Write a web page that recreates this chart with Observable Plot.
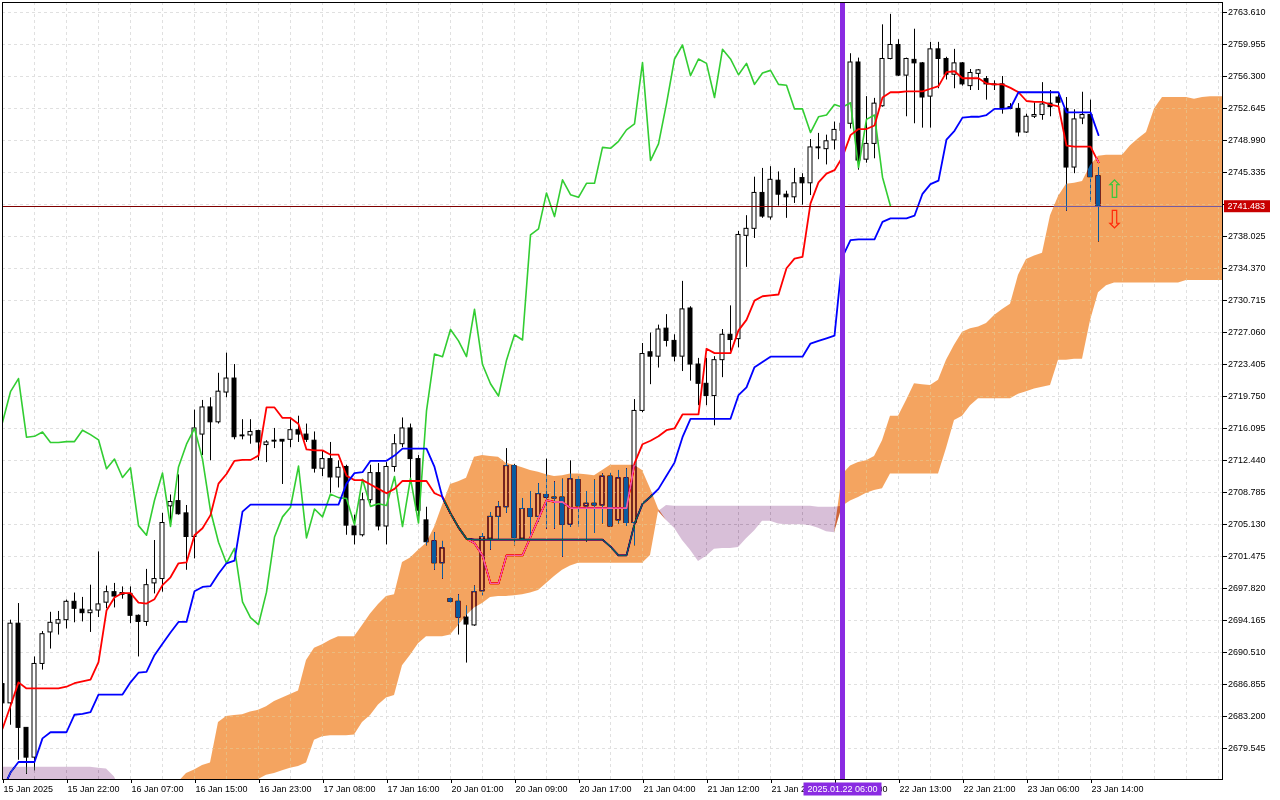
<!DOCTYPE html>
<html><head><meta charset="utf-8">
<script src="https://cdn.jsdelivr.net/npm/d3@7"></script>
<script src="https://cdn.jsdelivr.net/npm/@observablehq/plot@0.6"></script>
<style>
html,body{margin:0;padding:0;background:#fff;}
#chart{width:1280px;height:800px;overflow:hidden;}
</style></head><body><div id="chart"></div>
<script>
// XAUUSD H1, bars from 15 Jan 14:00 (index 0) to 23 Jan (index 137)
const opens=[2686.9,2684.7,2693.8,2681.9,2678.5,2689.2,2692.8,2693.8,2694.2,2696.3,
2695.4,2695.0,2695.3,2696.2,2697.4,2697.1,2697.2,2694.7,2694.0,2698.4,
2698.9,2707.2,2707.8,2706.4,2703.7,2715.4,2718.5,2716.8,2720.2,2721.8,
2715.3,2715.3,2715.8,2714.2,2714.7,2714.8,2714.8,2715.9,2715.4,2714.7,
2711.5,2712.6,2710.5,2711.7,2704.9,2703.9,2707.9,2711.0,2704.9,2711.7,
2714.3,2716.1,2712.6,2705.6,2703.2,2700.7,2696.6,2696.3,2694.5,2693.6,
2697.5,2703.5,2706.0,2707.1,2711.8,2703.5,2706.9,2706.0,2708.5,2708.2,
2708.2,2705.1,2710.2,2707.2,2707.5,2707.3,2710.6,2705.6,2710.4,2705.3,
2718.1,2724.8,2724.3,2727.5,2726.1,2724.3,2729.8,2723.4,2721.2,2719.8,
2723.9,2726.8,2726.3,2738.1,2738.9,2743.0,2740.2,2744.4,2742.8,2742.5,
2744.7,2744.1,2748.2,2748.0,2749.0,2750.1,2750.9,2757.9,2746.8,2748.6,
2752.9,2758.3,2759.9,2756.4,2758.2,2757.8,2754.0,2759.4,2758.3,2756.5,
2757.8,2755.2,2756.6,2756.0,2755.4,2755.4,2752.8,2752.6,2749.9,2751.7,
2751.9,2753.2,2753.9,2752.6,2745.9,2751.5,2751.9,2744.9];
const highs=[2687.3,2694.2,2696.1,2681.9,2690.0,2692.9,2695.1,2695.2,2696.5,2697.3,
2696.8,2698.2,2702.0,2698.1,2698.4,2698.0,2698.0,2694.8,2700.0,2703.3,
2706.4,2708.5,2710.8,2707.3,2718.2,2719.3,2719.6,2722.4,2724.7,2723.4,
2717.1,2717.1,2715.9,2714.7,2716.1,2714.8,2717.1,2717.5,2716.6,2715.7,
2713.5,2714.5,2712.4,2711.9,2706.2,2708.7,2711.9,2712.1,2712.2,2715.4,
2717.3,2716.6,2713.0,2707.1,2704.2,2703.2,2696.8,2697.1,2695.8,2698.1,
2704.1,2706.5,2707.7,2713.8,2712.0,2708.1,2708.9,2709.8,2712.6,2710.0,
2710.3,2712.4,2710.6,2708.9,2710.2,2710.9,2711.0,2711.3,2711.5,2719.4,
2725.8,2727.0,2727.9,2729.1,2726.8,2732.9,2730.0,2724.1,2724.1,2724.3,
2727.4,2730.1,2738.6,2740.4,2744.8,2745.8,2746.0,2745.4,2743.2,2745.8,
2745.2,2749.1,2749.8,2749.6,2751.1,2751.8,2758.9,2758.4,2754.0,2753.8,
2762.2,2763.4,2760.5,2758.4,2761.7,2757.9,2760.2,2760.2,2758.5,2759.4,
2757.9,2757.1,2757.1,2756.3,2755.8,2756.3,2753.2,2753.2,2752.0,2753.3,
2755.6,2754.7,2754.2,2753.9,2752.5,2754.5,2753.6,2745.9];
const lows=[2683.6,2682.2,2678.2,2676.6,2677.0,2688.5,2690.9,2692.5,2693.2,2693.9,
2694.0,2692.8,2694.5,2695.5,2695.6,2696.6,2693.8,2690.0,2693.5,2697.2,
2697.4,2704.8,2706.2,2699.9,2701.2,2713.0,2712.4,2716.6,2719.6,2714.8,
2714.8,2714.3,2712.4,2712.2,2713.8,2709.7,2713.9,2714.5,2714.5,2711.0,
2710.6,2708.7,2709.3,2703.9,2702.8,2703.7,2707.5,2704.4,2702.8,2711.1,
2713.9,2710.3,2705.6,2702.7,2699.9,2698.9,2696.1,2692.5,2689.3,2693.5,
2697.0,2702.2,2703.4,2706.4,2702.7,2703.3,2703.3,2705.4,2704.6,2704.6,
2701.4,2704.8,2704.8,2703.1,2704.1,2705.2,2704.8,2705.2,2704.9,2702.7,
2717.9,2721.1,2723.0,2725.4,2723.7,2722.6,2721.5,2718.7,2718.7,2716.4,
2721.9,2724.9,2725.3,2734.5,2737.8,2740.1,2739.9,2741.5,2740.1,2741.8,
2741.6,2742.7,2746.8,2746.2,2747.9,2749.0,2750.3,2745.6,2746.4,2746.9,
2752.8,2758.2,2756.3,2751.7,2750.9,2750.4,2750.4,2754.9,2755.9,2754.9,
2755.2,2754.7,2754.7,2753.6,2754.7,2752.0,2752.5,2749.4,2749.8,2751.5,
2751.3,2751.7,2752.9,2740.9,2745.2,2750.8,2741.9,2737.4];
const closes=[2684.7,2693.8,2681.9,2678.5,2689.2,2692.6,2693.9,2694.2,2696.3,2695.5,
2695.0,2695.3,2696.0,2697.4,2696.9,2697.3,2694.7,2694.0,2698.2,2698.9,
2705.3,2707.7,2706.3,2703.7,2716.1,2718.5,2716.8,2720.3,2721.8,2715.1,
2715.2,2715.7,2714.5,2714.5,2714.6,2714.6,2715.9,2715.4,2714.8,2711.5,
2712.6,2710.5,2711.6,2705.0,2703.9,2707.9,2711.0,2704.9,2711.7,2714.3,
2716.1,2712.6,2706.7,2703.1,2700.7,2702.4,2696.3,2694.5,2693.7,2697.4,
2703.7,2706.0,2707.1,2711.8,2703.6,2706.9,2706.0,2708.6,2708.2,2708.1,
2705.1,2710.3,2707.2,2707.5,2707.3,2710.6,2704.9,2710.4,2705.3,2718.1,
2724.6,2724.3,2727.4,2726.1,2724.3,2729.7,2723.4,2721.2,2719.8,2723.9,
2726.8,2726.2,2738.2,2738.9,2743.0,2740.3,2744.5,2742.8,2742.5,2744.1,
2744.1,2748.2,2748.1,2748.9,2750.2,2750.9,2757.9,2746.7,2748.6,2753.2,
2758.3,2759.9,2756.4,2758.3,2757.8,2753.9,2759.4,2758.3,2756.5,2757.8,
2755.4,2756.7,2757.0,2755.4,2755.3,2752.6,2752.6,2749.9,2751.7,2751.9,
2753.1,2752.8,2753.3,2745.9,2751.4,2751.9,2744.8,2741.483];
// Ichimoku lines
const tenkan=[2681.8,2684.4,2687.1,2686.4,2686.4,2686.4,2686.4,2686.4,2686.6,2687.0,
2687.2,2687.4,2689.4,2695.3,2696.8,2697.3,2697.3,2696.2,2696.1,2696.6,
2698.2,2699.1,2700.7,2700.8,2703.9,2704.7,2706.2,2709.8,2710.9,2712.4,
2712.5,2712.5,2713.0,2718.5,2718.5,2717.3,2717.3,2716.6,2713.7,2713.6,
2713.6,2713.1,2713.1,2710.7,2710.2,2710.2,2709.7,2709.2,2708.7,2709.2,
2710.1,2710.1,2710.1,2710.1,2708.7,2708.3,2706.4,2704.8,2703.5,2703.0,
2701.6,2698.4,2698.4,2701.6,2701.6,2701.6,2703.7,2705.8,2707.9,2707.7,
2707.7,2707.0,2707.0,2707.0,2707.0,2707.0,2707.0,2707.0,2707.0,2712.1,
2714.3,2714.7,2715.2,2715.9,2716.1,2717.7,2717.7,2717.7,2725.2,2724.7,
2724.7,2724.7,2727.3,2728.5,2730.7,2731.2,2731.3,2731.4,2734.4,2735.5,
2735.7,2741.8,2744.2,2745.2,2745.6,2747.1,2749.6,2750.3,2750.3,2750.7,
2753.9,2754.5,2754.5,2754.6,2754.6,2754.6,2754.9,2755.2,2756.8,2756.9,
2756.1,2756.1,2756.1,2755.5,2755.4,2755.4,2755.0,2754.5,2753.5,2753.4,
2753.4,2753.1,2752.9,2748.4,2748.3,2748.3,2748.3,2746.5];
const kijun=[2674.8,2676.8,2678.0,2678.0,2678.0,2680.7,2681.4,2681.4,2681.4,2683.4,
2683.5,2683.7,2685.7,2685.7,2685.7,2685.7,2687.1,2688.2,2688.3,2690.2,
2691.5,2692.8,2694.0,2694.0,2697.5,2698.0,2698.1,2699.5,2700.7,2701.0,
2706.6,2707.4,2707.4,2707.4,2707.4,2707.4,2707.4,2707.4,2707.4,2707.4,
2707.4,2707.4,2707.4,2709.8,2711.0,2711.1,2712.4,2712.4,2712.4,2713.0,
2713.8,2713.8,2713.8,2713.8,2711.7,2708.2,2706.4,2704.8,2703.5,2703.4,
2703.4,2703.4,2703.4,2703.4,2703.4,2703.4,2703.4,2703.4,2703.4,2703.4,
2703.4,2703.4,2703.4,2703.4,2703.4,2703.4,2702.6,2701.6,2701.6,2705.2,
2707.5,2708.3,2709.2,2710.7,2712.2,2715.1,2717.2,2717.2,2717.2,2717.2,
2717.2,2717.2,2719.9,2720.8,2723.1,2723.7,2724.3,2724.3,2724.3,2724.3,
2724.3,2725.8,2726.1,2726.4,2726.7,2735.7,2737.6,2737.7,2737.7,2737.7,
2739.7,2740.1,2740.1,2740.1,2740.4,2742.9,2744.0,2744.4,2749.1,2750.1,
2751.6,2751.7,2751.7,2751.9,2752.6,2752.6,2752.7,2754.5,2754.5,2754.5,
2754.5,2754.5,2754.5,2752.2,2752.2,2752.2,2752.2,2749.6];
// Senkou spans (already shifted 26 bars forward), indices 0..153
const spanA=[2673.6,2673.6,2673.6,2673.6,2673.6,2673.6,2673.6,2673.6,2673.6,2673.6,
2673.6,2673.6,2673.6,2673.6,2673.6,2673.6,2673.6,2673.6,2673.6,2673.6,
2673.6,2673.6,2675.7,2676.7,2677.1,2677.6,2677.9,2682.5,2683.2,2683.3,
2683.4,2683.7,2683.9,2684.3,2684.9,2685.3,2685.7,2686.1,2689.6,2691.0,
2691.4,2691.9,2692.3,2692.3,2692.3,2693.6,2694.9,2696.0,2696.9,2697.1,
2700.8,2701.3,2702.2,2703.0,2704.8,2707.3,2709.7,2710.0,2710.4,2712.8,
2713.0,2712.9,2712.8,2712.1,2711.9,2711.6,2711.3,2711.1,2710.8,2710.6,
2710.7,2710.9,2710.9,2710.8,2710.7,2711.3,2711.9,2711.9,2711.9,2711.9,
2711.3,2709.2,2706.9,2705.6,2704.7,2703.3,2702.2,2700.9,2701.5,2702.3,
2702.4,2702.4,2702.5,2703.5,2704.4,2705.5,2705.5,2705.2,2705.1,2705.1,
2705.1,2705.0,2704.7,2704.3,2704.2,2710.8,2711.8,2712.2,2712.4,2712.9,
2714.7,2717.5,2717.5,2719.3,2721.2,2721.1,2721.0,2721.6,2723.9,2725.6,
2727.1,2727.5,2727.7,2728.1,2729.0,2729.7,2730.3,2733.6,2735.4,2735.8,
2736.1,2740.4,2742.6,2744.0,2744.1,2744.3,2746.1,2747.2,2747.3,2747.3,
2747.3,2748.4,2749.2,2749.9,2752.6,2753.9,2753.9,2753.9,2753.9,2753.7,
2753.9,2754.0,2754.0,2754.0];
const spanB=[2677.4,2677.4,2677.4,2677.4,2677.4,2677.4,2677.4,2677.4,2677.4,2677.4,
2677.4,2677.4,2677.3,2677.2,2676.3,2674.2,2674.2,2674.2,2674.2,2674.2,
2674.2,2674.2,2673.6,2673.6,2673.6,2673.6,2674.2,2674.2,2674.2,2674.7,
2675.2,2675.7,2676.0,2676.5,2676.7,2677.0,2677.3,2677.5,2677.9,2680.5,
2680.9,2681.0,2681.0,2681.0,2681.1,2682.5,2683.3,2684.5,2685.3,2685.6,
2689.0,2690.2,2691.5,2692.3,2692.3,2692.3,2692.5,2693.6,2694.7,2695.6,
2696.1,2696.8,2696.9,2696.9,2697.0,2697.1,2697.3,2697.6,2698.4,2699.2,
2699.9,2700.4,2700.7,2700.7,2700.7,2700.7,2700.7,2700.7,2700.7,2700.7,
2700.7,2701.6,2706.6,2707.3,2707.2,2707.2,2707.2,2707.2,2707.2,2707.2,
2707.2,2707.2,2707.2,2707.2,2707.2,2707.2,2707.2,2707.2,2707.2,2707.2,
2707.2,2707.2,2707.1,2707.1,2707.1,2707.2,2707.8,2708.2,2708.7,2709.0,
2709.2,2710.9,2710.9,2710.9,2710.9,2710.9,2710.9,2710.9,2713.8,2717.0,
2717.5,2718.7,2719.5,2719.5,2719.5,2719.5,2719.5,2720.0,2720.3,2720.6,
2720.8,2721.0,2723.9,2723.9,2724.0,2724.0,2728.4,2731.6,2732.4,2732.7,
2732.7,2732.7,2732.7,2732.7,2732.7,2732.7,2732.7,2732.7,2733.0,2733.0,
2733.0,2733.0,2733.0,2733.0];
const yTicks=[2763.610,2759.955,2756.300,2752.645,2748.990,2745.335,2741.680,2738.025,
2734.370,2730.715,2727.060,2723.405,2719.750,2716.095,2712.440,2708.785,2705.130,
2701.475,2697.820,2694.165,2690.510,2686.855,2683.200,2679.545];
const xTickBars=[0,8,16,24,32,40,48,56,64,72,80,88,96,104,112,120,128,136];
const xTickLabels=["15 Jan 2025","15 Jan 22:00","16 Jan 07:00","16 Jan 15:00","16 Jan 23:00",
"17 Jan 08:00","17 Jan 16:00","20 Jan 01:00","20 Jan 09:00","20 Jan 17:00","21 Jan 04:00",
"21 Jan 12:00","21 Jan 20:00","22 Jan 05:00","22 Jan 13:00","22 Jan 21:00","23 Jan 06:00","23 Jan 14:00"];
const lastPrice=2741.483;
const vlineBar=105, vlineLabel="2025.01.22 06:00";
const signals=[{bar:139,price:2743.35,glyph:"⇧",color:"#3cc83c"},{bar:139,price:2739.95,glyph:"⇩",color:"#ff2a0a"}];

const bars=opens.map((o,i)=>({i,o,h:highs[i],l:lows[i],c:closes[i],up:closes[i]>o}));
const chikou=closes.slice(26).map((c,i)=>({i,v:c}));
const tk=tenkan.map((v,i)=>({i,v}));
const kj=kijun.map((v,i)=>({i,v}));
const cloud=spanA.map((a,i)=>({i,a,b:spanB[i]}));
const labelOf=new Map(xTickBars.map((b,k)=>[b,xTickLabels[k]]));
const gridBars=d3.range(0,153,4);
const FONT="Liberation Sans, Arial, sans-serif";
const FS=9;

const plot=Plot.plot({
  width:1280,height:800,
  marginLeft:2,marginRight:58,marginTop:2,marginBottom:21,
  x:{domain:[0,152.5]},
  y:{domain:[2676.003,2764.752]},
  style:{fontFamily:FONT,fontSize:FS+"px",background:"white",color:"black",overflow:"visible"},
  marks:[
    Plot.frame({fill:"white",stroke:"none"}),
    Plot.gridY(yTicks,{stroke:"#e0e0e0",strokeOpacity:1,strokeDasharray:"3,3"}),
    Plot.gridX(gridBars,{stroke:"#e0e0e0",strokeOpacity:1,strokeDasharray:"3,3"}),
    Plot.ruleX(bars,{x:"i",y1:"l",y2:"h",stroke:"black",strokeWidth:1,clip:true}),
    Plot.rect(bars,{x1:d=>d.i-0.25,x2:d=>d.i+0.25,y1:"o",y2:"c",fill:d=>d.up?"white":"black",stroke:"black",strokeWidth:1,inset:0,clip:true}),
    Plot.line(chikou,{x:"i",y:"v",stroke:"#32cd32",strokeWidth:1.6,clip:true}),
    Plot.line(tk,{x:"i",y:"v",stroke:"#ff0000",strokeWidth:1.8,clip:true}),
    Plot.line(kj,{x:"i",y:"v",stroke:"#0000ff",strokeWidth:1.8,clip:true}),
    Plot.ruleY([lastPrice],{stroke:"#800000",strokeWidth:1,shapeRendering:"crispEdges"}),
    Plot.areaY(cloud,{x:"i",y1:"a",y2:d=>d.a>d.b?d.b:d.a,fill:"#0b5b9f",mixBlendMode:"difference",clip:true}),
    Plot.areaY(cloud,{x:"i",y1:"b",y2:d=>d.b>d.a?d.a:d.b,fill:"#274027",mixBlendMode:"difference",clip:true}),
    // grid as it shows through the orange cloud (clipped to the cloud below)
    Plot.gridY(yTicks,{stroke:"#ebbb7f",strokeOpacity:1,strokeDasharray:"3,3"}),
    Plot.gridX(gridBars,{stroke:"#ebbb7f",strokeOpacity:1,strokeDasharray:"3,3"}),
    Plot.ruleX([vlineBar],{stroke:"#8a2be2",strokeWidth:5}),
    Plot.text(signals,{x:"bar",y:"price",text:"glyph",fill:"color",fontSize:25,fontFamily:"DejaVu Sans"}),
    Plot.frame({stroke:"black"}),
    Plot.axisY(yTicks,{anchor:"right",tickFormat:d=>d.toFixed(3),tickSize:4,tickPadding:1.5,fontSize:FS}),
    Plot.axisX(xTickBars,{anchor:"bottom",tickFormat:d=>labelOf.get(d),textAnchor:"start",tickSize:4,tickPadding:2,dx:1,fontSize:FS})
  ]
});
document.getElementById("chart").appendChild(plot);
const svg=d3.select(plot);
svg.selectAll('g[aria-label="area"]').style("mix-blend-mode","difference");

// clip the second grid to the orange cloud, and keep it under candles / lines
try{
  const defs=svg.insert("defs",":first-child");
  const cp=defs.append("clipPath").attr("id","cloudclip").attr("clipPathUnits","userSpaceOnUse");
  const areaG=svg.selectAll('g[aria-label="area"]').nodes()[0];
  d3.select(areaG).selectAll("path").each(function(){
    const p=cp.append("path").attr("d",this.getAttribute("d"));
    const t=areaG.getAttribute("transform")||this.getAttribute("transform");
    if(t)p.attr("transform",t);
  });
  const mask=defs.append("mask").attr("id","nocandle").attr("maskUnits","userSpaceOnUse")
    .attr("x",0).attr("y",0).attr("width",1280).attr("height",800);
  mask.append("rect").attr("width",1280).attr("height",800).attr("fill","white");
  svg.selectAll('g[aria-label="rule"], g[aria-label="rect"], g[aria-label="line"]').each(function(){
    const c=this.cloneNode(true);
    const recolor=el=>{
      const f=el.getAttribute("fill"); if(f&&f!=="none")el.setAttribute("fill","black");
      const s=el.getAttribute("stroke"); if(s&&s!=="none")el.setAttribute("stroke","black");
    };
    recolor(c); c.querySelectorAll("*").forEach(recolor);
    mask.node().appendChild(c);
  });
  const yg=svg.selectAll('g[aria-label="y-grid"]').nodes();
  const xg=svg.selectAll('g[aria-label="x-grid"]').nodes();
  [yg[yg.length-1],xg[xg.length-1]].forEach(n=>{ if(n){ n.setAttribute("clip-path","url(#cloudclip)"); n.setAttribute("mask","url(#nocandle)"); }});
}catch(e){console.log(e);}

const xs=plot.scale("x"), ys=plot.scale("y");
const g=svg.append("g").attr("font-family",FONT).attr("font-size",FS).attr("text-anchor","start");
const vx=xs.apply(vlineBar)+0.5;
g.append("rect").attr("x",vx-39).attr("y",782.5).attr("width",78).attr("height",13).attr("fill","#8a2be2");
g.append("text").attr("x",vx).attr("y",792.4).attr("text-anchor","middle").attr("fill","white").text(vlineLabel);
const py=ys.apply(lastPrice)+0.5;
const rx=xs.range[1]+0.5;
g.append("rect").attr("x",rx+1.5).attr("y",py-6).attr("width",46).attr("height",12).attr("fill","#c80000");
g.append("text").attr("x",rx+5).attr("y",py+3.2).attr("fill","white").text(lastPrice.toFixed(3));
</script></body></html>
